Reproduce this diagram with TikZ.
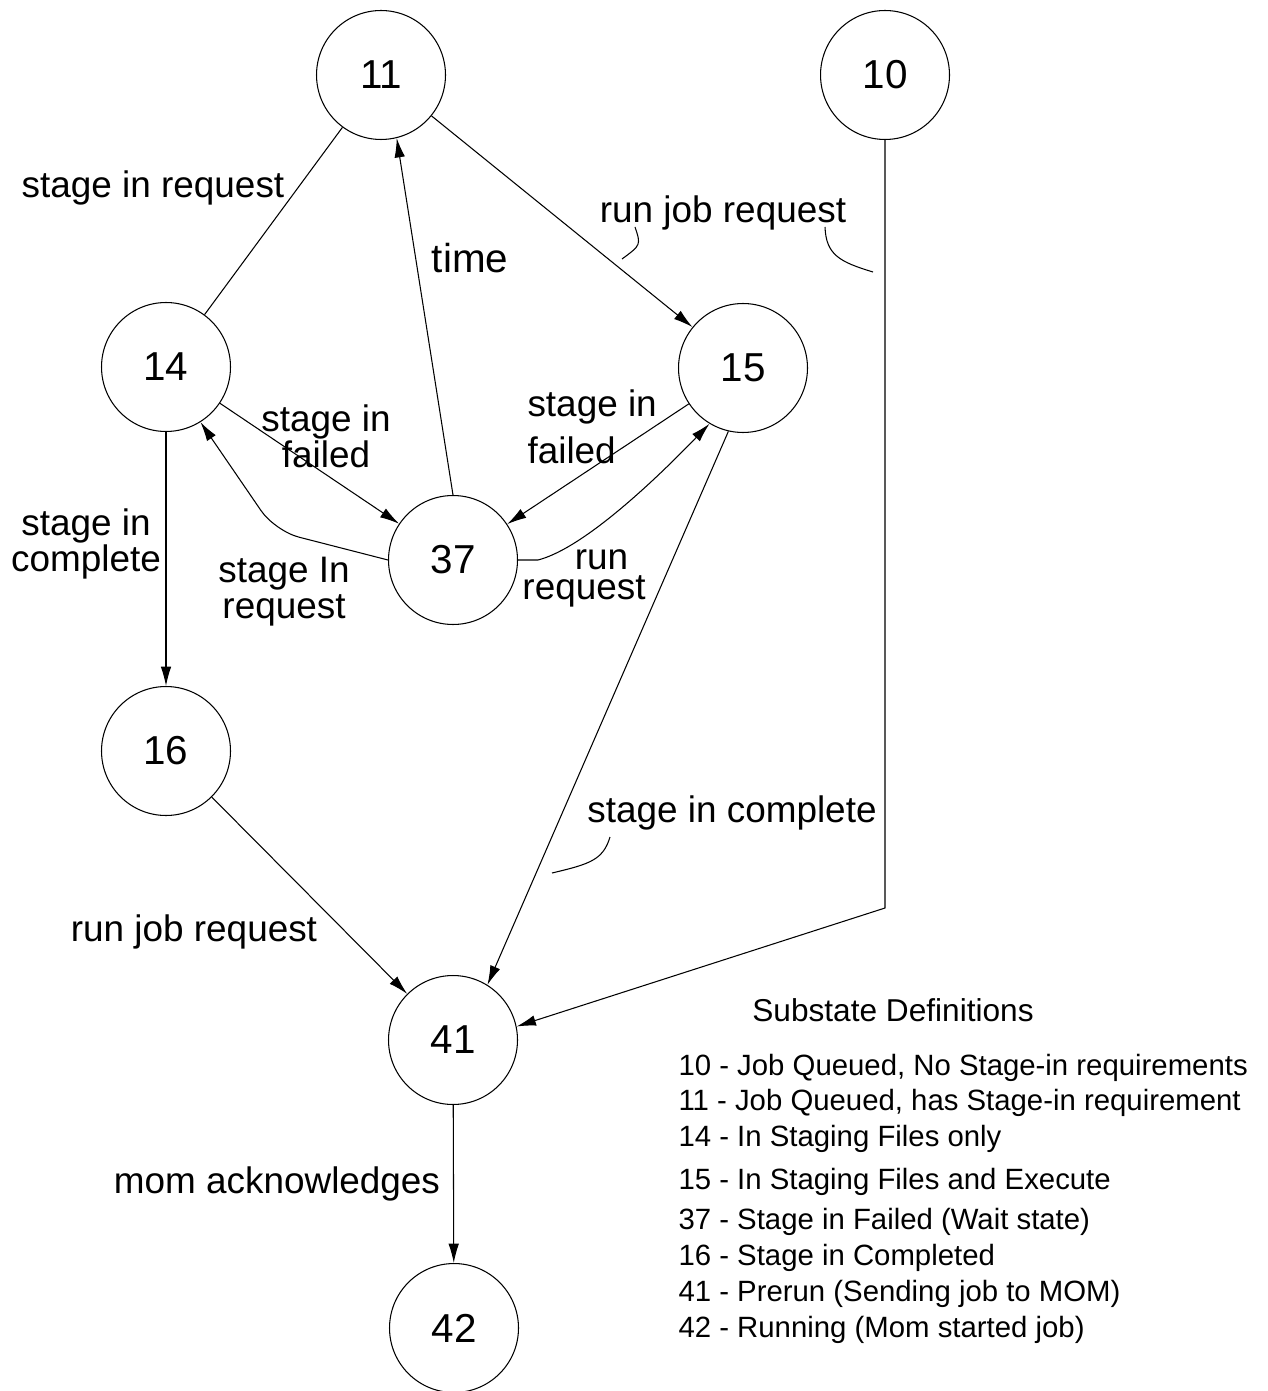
\documentclass[tikz,border=0pt]{standalone}
\usepackage{fontspec}
\setmainfont{Liberation Sans}
\usetikzlibrary{arrows.meta}
\newcommand\tightlines{\lineskiplimit=-20pt\relax}

\begin{document}
\begin{tikzpicture}[x=0.02cm, y=-0.02cm, line width=0.6pt,
    state/.style={draw, circle, minimum size=2.58cm, inner sep=0pt, font=\fontsize{23}{27}\selectfont},
    lbl/.style={inner sep=0pt, align=center, font=\fontsize{21}{20.5}\selectfont\tightlines},
    defn/.style={anchor=west, inner sep=0pt, font=\fontsize{16.7}{20}\selectfont},
    line/.style={draw, -{Latex[length=11pt,width=6pt]}},
    leader/.style={draw},
    ]
    \useasboundingbox (0,0) rectangle (1267,1391);

    % Place nodes
    \node [state] (n11) at (381,75) {11};
    \node [state] (n10) at (885,75) {10};
    \node [state] (n14) at (166,367) {14};
    \node [state] (n15) at (743,368) {15};
    \node [state] (n37) at (453,560) {37};
    \node [state] (n16) at (166,751) {16};
    \node [state] (n41) at (453,1040) {41};
    \node [state] (n42) at (454,1328) {42};
    \coordinate (bend10) at (885,908);

    % Edge labels
    \node [lbl] (l_sireq) at (153,188) {stage in request};
    \node [lbl, font=\fontsize{23}{27}\selectfont] (l_time) at (470,258) {time};
    \node [lbl] (l_runjob) at (723,213) {run job request};
    \node [lbl] (l_fail14) at (326,436) {stage in\\failed};
    \node [lbl, align=left, anchor=west] (l_fail15) at (527,427) {stage in\\[6.1pt]failed};
    \node [lbl] (l_sicomp) at (86,544) {stage in\\complete};
    \node [lbl] (l_sInreq) at (284,592) {stage In\\request};
    \node [lbl] (l_runreq) at (584,578) {\hspace*{20pt}run\\[-3.5pt]request};
    \node [lbl] (l_sicomp2) at (732,813) {stage in complete};
    \node [lbl] (l_runjob2) at (194,932) {run job request};
    \node [lbl] (l_momack) at (277,1184) {mom acknowledges};

    % Legend
    \node [inner sep=0pt, font=\fontsize{18}{22}\selectfont] (defhead) at (893,1010) {Substate Definitions};
    \node [defn] (d10) at (678,1068) {10 - Job Queued, No Stage-in requirements};
    \node [defn] (d11) at (678,1103) {11 - Job Queued, has Stage-in requirement};
    \node [defn] (d14) at (678,1139) {14 - In Staging Files only};
    \node [defn] (d15) at (678,1182) {15 - In Staging Files and Execute};
    \node [defn] (d37) at (678,1222) {37 - Stage in Failed (Wait state)};
    \node [defn] (d16) at (678,1258) {16 - Stage in Completed};
    \node [defn] (d41) at (678,1294) {41 - Prerun (Sending job to MOM)};
    \node [defn] (d42) at (678,1330) {42 - Running (Mom started job)};

    % Draw edges
    \path [draw] (n11) -- (n14);
    \path [line] (n37.north) -- (n11.-76);
    \path [line] (n11) -- (n15);
    \path [line] (n10) -- (bend10) -- (n41.12);
    \path [line] (n14) -- (n37);
    \path [line, rounded corners=14pt] (n37.west) -- (275,531) -- (n14.-58);
    \path [line] (n15) -- (n37);
    \path [line] (n37.east) -- (538,560) .. controls (585,548) and (660,475) .. (n15.-121);
    \path [line] (n15.-103) -- (n41.58);
    \path [line] (n14) -- (n16);
    \path [line] (n16) -- (n41);
    \path [line] (n41) -- (n42);

    % Label leaders
    \coordinate (ldr1a) at (635,227);
    \coordinate (ldr1b) at (622,259);
    \coordinate (ldr2a) at (825,227);
    \coordinate (ldr2b) at (873,272);
    \coordinate (ldr3a) at (610,837);
    \coordinate (ldr3b) at (552,873);
    \path [leader] (ldr1a) .. controls (641,245) .. (ldr1b);
    \path [leader] (ldr2a) .. controls (826,255) and (840,262) .. (ldr2b);
    \path [leader] (ldr3a) .. controls (603,860) and (590,864) .. (ldr3b);
\end{tikzpicture}
\end{document}
